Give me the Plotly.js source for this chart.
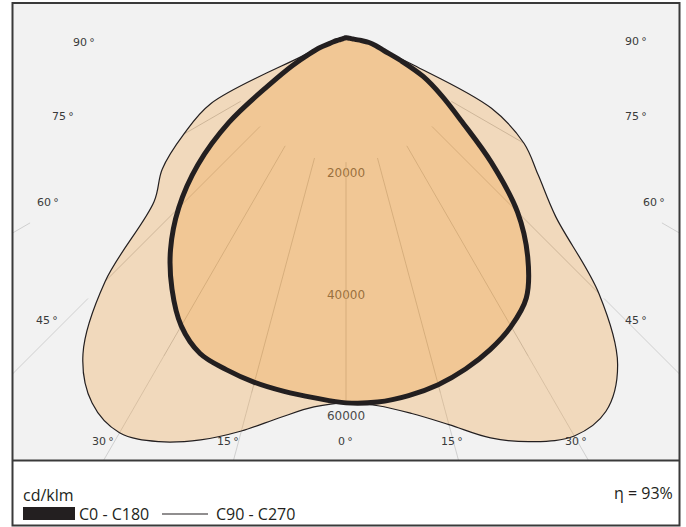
<!DOCTYPE html>
<html><head><meta charset="utf-8">
<script src="https://cdn.plot.ly/plotly-3.0.1.min.js"></script>
<style>html,body{margin:0;padding:0;background:#fff;}#chart{width:686px;height:527px;}</style>
</head><body><div id="chart"></div>
<script>
// ---- DATA (cd/klm) ----
const gammaDeg = [0,5,10,15,20,25,30,35,40,45,50,55,60,65,70,75,80,85,90,95,100,105,110,115,120,125,130,135,140,145,150,155,160,165,170,175,180];
const C0   = [59600,59700,59300,58600,57500,56100,54300,51700,46500,39900,31200,23300,18200,14000,9500,6500,5000,3800,2500,1700,1300,1050,900,800,720,660,600,560,520,500,480,470,460,460,460,460,460];
const C180 = [59600,59000,58600,58200,57600,56800,54200,49900,44900,38900,31800,23500,14600,9700,6400,4400,2700,2000,1500,1150,950,820,700,640,600,560,520,500,480,470,460,460,460,460,460,460,460];
const C90  = [59600,60300,62300,65400,69550,72800,75100,74500,69500,58800,45000,38600,33800,26400,11800,6500,5000,3800,2500,1700,1300,1050,900,800,720,660,600,560,520,500,480,470,460,460,460,460,460];
const C270 = [59600,60500,63000,66500,69900,72800,74500,72800,67300,56000,41200,36900,30800,24500,8000,4400,2700,2000,1500,1150,950,820,700,640,600,560,520,500,480,470,460,460,460,460,460,460,460];
const ringValues = [20000,40000,60000];
const ringLabels = ['20000','40000','60000'];
const innerAngles = [-60,-45,-30,-15,0,15,30,45,60];
const outerAngles = [-60,-45,-30,-15,15,30,45,60];
const seriesNames = ['C0 - C180','C90 - C270'];
const unitLabel = 'cd/klm';
const efficiencyLabel = '\u03b7 = 93%';

// ---- helpers ----
const rad = d => d*Math.PI/180;
function idx(g){ return gammaDeg.indexOf(g); }
function closedPath(rightVals, leftVals){
  const xs=[], ys=[];
  for(let i=gammaDeg.length-1;i>=0;i--){
    const g=rad(gammaDeg[i]), r=rightVals[i];
    xs.push(r*Math.sin(g)); ys.push(-r*Math.cos(g));
  }
  for(let i=1;i<gammaDeg.length-1;i++){
    const g=rad(gammaDeg[i]), r=leftVals[i];
    xs.push(-r*Math.sin(g)); ys.push(-r*Math.cos(g));
  }
  xs.push(xs[0]); ys.push(ys[0]);
  return {xs, ys};
}
function radialSegments(angles, fromR, toRFn){
  const xs=[], ys=[];
  angles.forEach(a=>{
    const g=rad(Math.abs(a)), s=Math.sign(a)||1;
    const r1=toRFn(a);
    if(r1<=fromR) return;
    xs.push(s*fromR*Math.sin(g), s*r1*Math.sin(g), null);
    ys.push(-fromR*Math.cos(g), -r1*Math.cos(g), null);
  });
  return {xs, ys};
}
function outerAt(a){
  const i=idx(Math.abs(a));
  return a<0 ? Math.max(C180[i],C270[i]) : Math.max(C0[i],C90[i]);
}

const thick = closedPath(C0, C180);
const thin  = closedPath(C90, C270);
const inner = radialSegments(innerAngles, 20000, a=>Math.min(60000, outerAt(a)));
const outer = radialSegments(outerAngles, 60000, ()=>130000);

const fillColor = 'rgba(242,153,49,0.28)';
const ink = '#231f20';
const gridColor = '#b4b4b4';

const traces = [
  {x:ringValues.map(()=>0), y:ringValues.map(v=>-(v+1980)), mode:'text', text:ringLabels,
   textposition:'middle center', textfont:{family:'DejaVu Sans', size:12, color:'#4a4a4a'}, hoverinfo:'skip'},
  {x:inner.xs, y:inner.ys, mode:'lines', line:{color:gridColor, width:0.8}, hoverinfo:'skip'},
  {x:outer.xs, y:outer.ys, mode:'lines', line:{color:'#c6c6c6', width:0.8}, hoverinfo:'skip'},
  {x:thin.xs, y:thin.ys, mode:'lines', fill:'toself', fillcolor:fillColor, line:{width:0, shape:'spline', smoothing:1}, hoverinfo:'skip', name:seriesNames[1]},
  {x:thick.xs, y:thick.ys, mode:'lines', fill:'toself', fillcolor:fillColor, line:{width:0, shape:'spline', smoothing:1}, hoverinfo:'skip', name:seriesNames[0]},
  {x:thin.xs, y:thin.ys, mode:'lines', line:{color:ink, width:1.2, shape:'spline', smoothing:1}, hoverinfo:'skip'},
  {x:thick.xs, y:thick.ys, mode:'lines', line:{color:ink, width:5, shape:'spline', smoothing:1}, hoverinfo:'skip'}
];

// ---- LAYOUT ----
const W=686, H=527, PL=13, PR=679, PT=3, PB=460;
const pxPer = 6.08/1000;        // pixels per cd/klm
const CX=346, CY=40.5;          // pole position in pixels
const fx = px => (px-PL)/(PR-PL);
const fy = py => (PB-py)/(PB-PT);

const angleLabelSpecs = [
  ['90',83.8,42],['75',62.5,116.7],['60',47.5,202.5],['45',47.2,321],['30',102.5,441],['15',227.5,441],
  ['0',345,441],
  ['15',452,441],['30',575.8,441],['45',636.3,320.7],['60',653.5,202],['75',636.3,116.7],['90',636.3,41.7]
];
const annotations = angleLabelSpecs.map(s=>({
  text:s[0]+'\u2009\u00b0', xref:'paper', yref:'paper', x:fx(s[1]), y:fy(s[2]), xanchor:'center', yanchor:'middle',
  showarrow:false, font:{family:'DejaVu Sans', size:11, color:'#3a3a3a'}
}));
const legendFont = {family:'Open Sans', size:16, color:ink};
annotations.push(
  {text:unitLabel, xref:'paper', yref:'paper', x:fx(21), y:fy(495), xanchor:'left', yanchor:'middle', showarrow:false, font:legendFont},
  {text:seriesNames[0], xref:'paper', yref:'paper', x:fx(77), y:fy(513.5), xanchor:'left', yanchor:'middle', showarrow:false, font:legendFont},
  {text:seriesNames[1], xref:'paper', yref:'paper', x:fx(213.5), y:fy(513.5), xanchor:'left', yanchor:'middle', showarrow:false, font:legendFont},
  {text:efficiencyLabel, xref:'paper', yref:'paper', x:fx(675), y:fy(493), xanchor:'right', yanchor:'middle', showarrow:false, font:legendFont}
);
const shapes = [
  {type:'rect', xref:'paper', yref:'paper', x0:fx(12.5), x1:fx(679.5), y0:fy(525.5), y1:fy(3), line:{color:'#3a3a3a', width:2}, fillcolor:'rgba(0,0,0,0)', layer:'above'},
  {type:'line', xref:'paper', yref:'paper', x0:fx(12.5), x1:fx(679.5), y0:fy(460.5), y1:fy(460.5), line:{color:'#3a3a3a', width:2}, layer:'above'},
  {type:'rect', xref:'paper', yref:'paper', x0:fx(23), x1:fx(75), y0:fy(520), y1:fy(507), fillcolor:ink, line:{width:0}},
  {type:'line', xref:'paper', yref:'paper', x0:fx(162), x1:fx(208), y0:fy(514), y1:fy(514), line:{color:ink, width:1.2}}
];

const layout = {
  width:W, height:H, autosize:false, showlegend:false,
  margin:{l:PL, r:W-PR, t:PT, b:H-PB, pad:0},
  paper_bgcolor:'#ffffff', plot_bgcolor:'#f2f2f2',
  xaxis:{range:[-(CX-PL)/pxPer, (PR-CX)/pxPer], visible:false, fixedrange:true},
  yaxis:{range:[-(PB-CY)/pxPer, (CY-PT)/pxPer], visible:false, fixedrange:true},
  annotations, shapes
};
Plotly.newPlot('chart', traces, layout, {displayModeBar:false, staticPlot:true});
</script></body></html>
